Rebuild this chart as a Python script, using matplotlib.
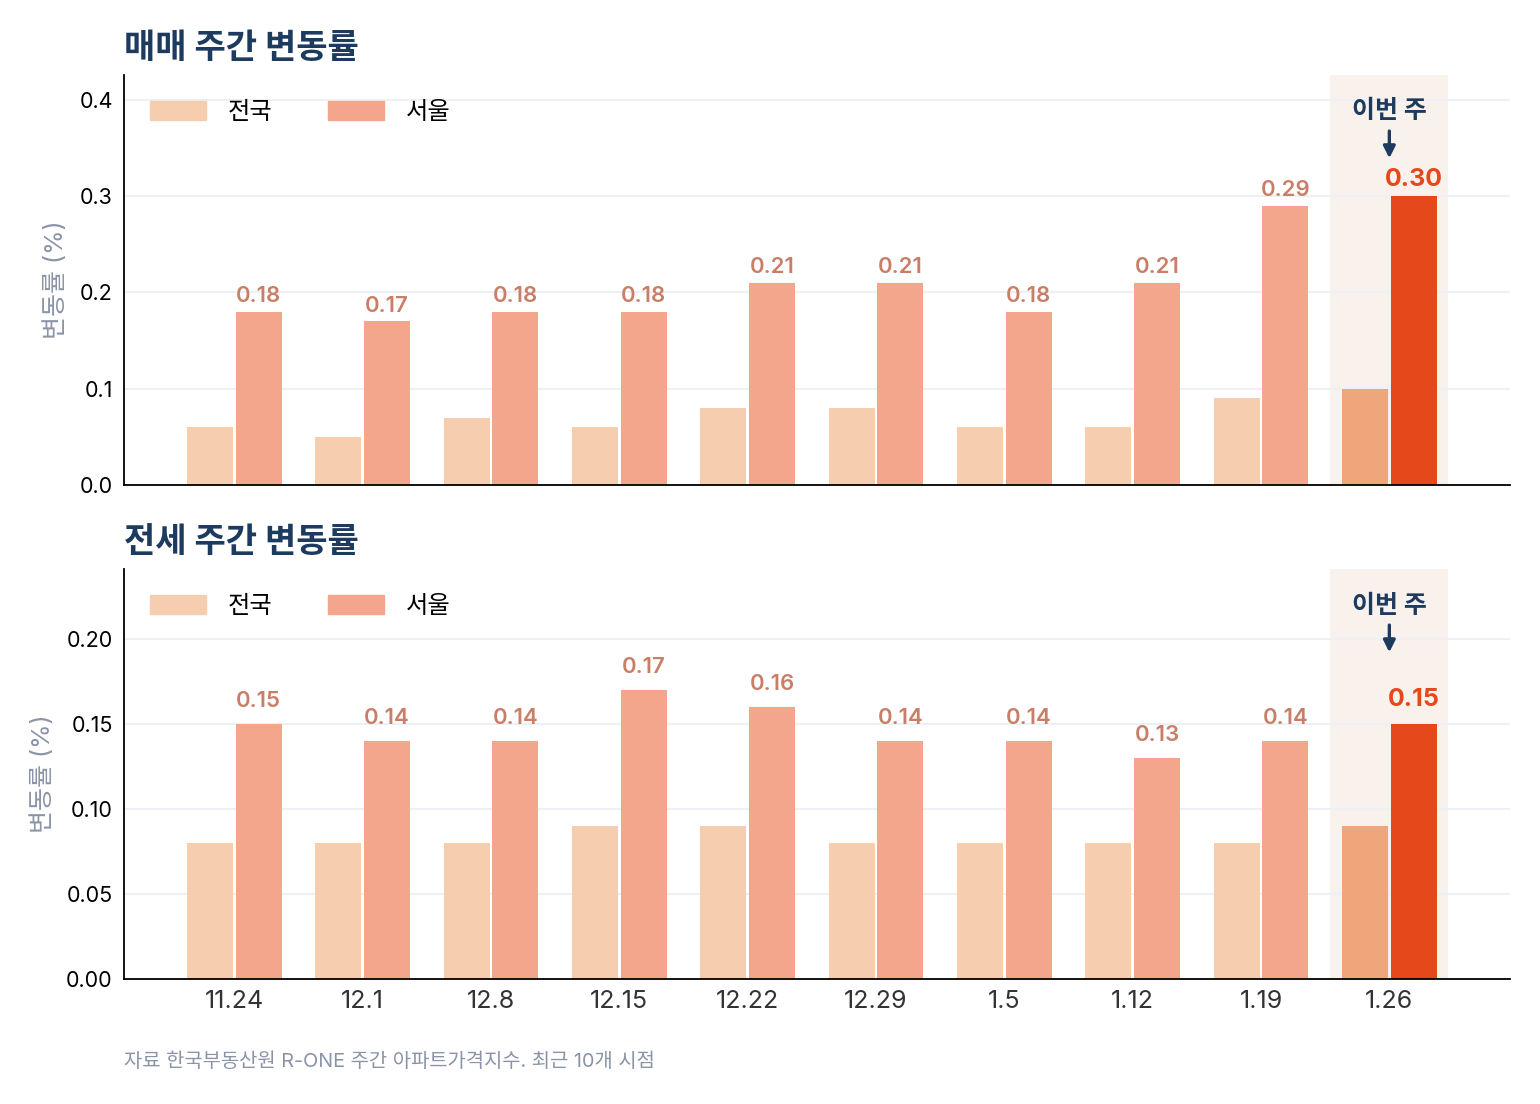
import numpy as np
import matplotlib
matplotlib.use("Agg")
import matplotlib.pyplot as plt
from matplotlib.patches import Patch

plt.rcParams["font.family"] = ["Inter", "Noto Sans CJK KR", "DejaVu Sans"]

# ---- data ----
weeks = ["11.24", "12.1", "12.8", "12.15", "12.22", "12.29", "1.5", "1.12", "1.19", "1.26"]
sale_nation = [0.06, 0.05, 0.07, 0.06, 0.08, 0.08, 0.06, 0.06, 0.09, 0.10]
sale_seoul = [0.18, 0.17, 0.18, 0.18, 0.21, 0.21, 0.18, 0.21, 0.29, 0.30]
rent_nation = [0.08, 0.08, 0.08, 0.09, 0.09, 0.08, 0.08, 0.08, 0.08, 0.09]
rent_seoul = [0.15, 0.14, 0.14, 0.17, 0.16, 0.14, 0.14, 0.13, 0.14, 0.15]

panel_titles = ["매매 주간 변동률", "전세 주간 변동률"]
series_names = ["전국", "서울"]
ylabel = "변동률 (%)"
note = "자료 한국부동산원 R-ONE 주간 아파트가격지수. 최근 10개 시점"
this_week = "이번 주"

# ---- colours ----
C_NATION = "#F6CDAF"
C_SEOUL = "#F4A68C"
C_NATION_HI = "#EFA67A"
C_SEOUL_HI = "#E5481A"
C_LABEL = "#C97F67"
C_NAVY = "#1D3A5F"
C_GRID = "#EDF0F4"
C_BAND = "#F9F1EC"
C_GRAY = "#8A94A6"

fig = plt.figure(figsize=(15.4, 11.04), dpi=100)
ax_top = fig.add_axes([0.0805, 0.5607, 0.9, 0.3714])
ax_bot = fig.add_axes([0.0805, 0.1132, 0.9, 0.3714])

x = np.arange(len(weeks))
w = 0.36
off = 0.19
hi = len(weeks) - 1


def draw_panel(ax, nation, seoul, title, ticks, fmt, show_x):
    ymax = max(seoul) * 1.42
    ax.set_ylim(0, ymax)
    ax.set_xlim(-0.86, 9.94)
    ax.axvspan(hi - 0.46, hi + 0.46, color=C_BAND, zorder=0, lw=0)

    nc = [C_NATION] * hi + [C_NATION_HI]
    sc = [C_SEOUL] * hi + [C_SEOUL_HI]
    ax.bar(x - off, nation, w, color=nc, zorder=2)
    ax.bar(x + off, seoul, w, color=sc, zorder=2)

    # value labels sit a fixed 0.01 %p above each Seoul bar
    for i, v in enumerate(seoul):
        if i == hi:
            ax.text(x[i] + off, v + 0.011, f"{v:.2f}", ha="center", va="baseline",
                    fontsize=18, fontweight="bold", color=C_SEOUL_HI)
        else:
            ax.text(x[i] + off, v + 0.01, f"{v:.2f}", ha="center", va="baseline",
                    fontsize=16, fontweight="semibold", color=C_LABEL)

    # "this week" marker
    trans = ax.get_xaxis_transform()
    ax.text(hi, 0.91, this_week, transform=trans, ha="center", va="center",
            fontsize=18, fontweight="bold", color=C_NAVY)
    ax.annotate("", xy=(hi, 0.79), xycoords=trans, xytext=(hi, 0.87), textcoords=trans,
                arrowprops=dict(arrowstyle="-|>,head_length=0.7,head_width=0.35", color=C_NAVY, lw=2.4))

    ax.set_yticks(ticks)
    ax.set_yticklabels([fmt.format(t) for t in ticks], fontsize=15.5)
    ax.grid(axis="y", color=C_GRID, lw=1.5, zorder=1)
    ax.set_axisbelow(True)
    ax.tick_params(length=0, pad=8)
    for s in ["top", "right"]:
        ax.spines[s].set_visible(False)
    ax.spines["left"].set_linewidth(1.3)
    ax.spines["bottom"].set_linewidth(1.3)
    ax.set_xticks(x)
    if show_x:
        ax.set_xticklabels(weeks, fontsize=18, color="#333333")
    else:
        ax.set_xticklabels([])
    ax.set_ylabel(ylabel, fontsize=18, color=C_GRAY, labelpad=8)
    ax.set_title(title, loc="left", fontsize=24.5, fontweight="bold", color=C_NAVY, pad=12)

    handles = [Patch(color=C_NATION), Patch(color=C_SEOUL)]
    ax.legend(handles, series_names, loc="upper left", bbox_to_anchor=(0.003, 0.99), ncol=2,
              frameon=False, fontsize=17.5, handlelength=2.3, handleheight=0.8,
              handletextpad=0.9, columnspacing=2.3)


draw_panel(ax_top, sale_nation, sale_seoul, panel_titles[0],
           [0.0, 0.1, 0.2, 0.3, 0.4], "{:.1f}", False)
draw_panel(ax_bot, rent_nation, rent_seoul, panel_titles[1],
           [0.0, 0.05, 0.10, 0.15, 0.20], "{:.2f}", True)

fig.text(0.0805, 1 - 1062 / 1104, note, fontsize=14.3, color=C_GRAY, ha="left", va="center")

fig.savefig("out.png", dpi=100)
